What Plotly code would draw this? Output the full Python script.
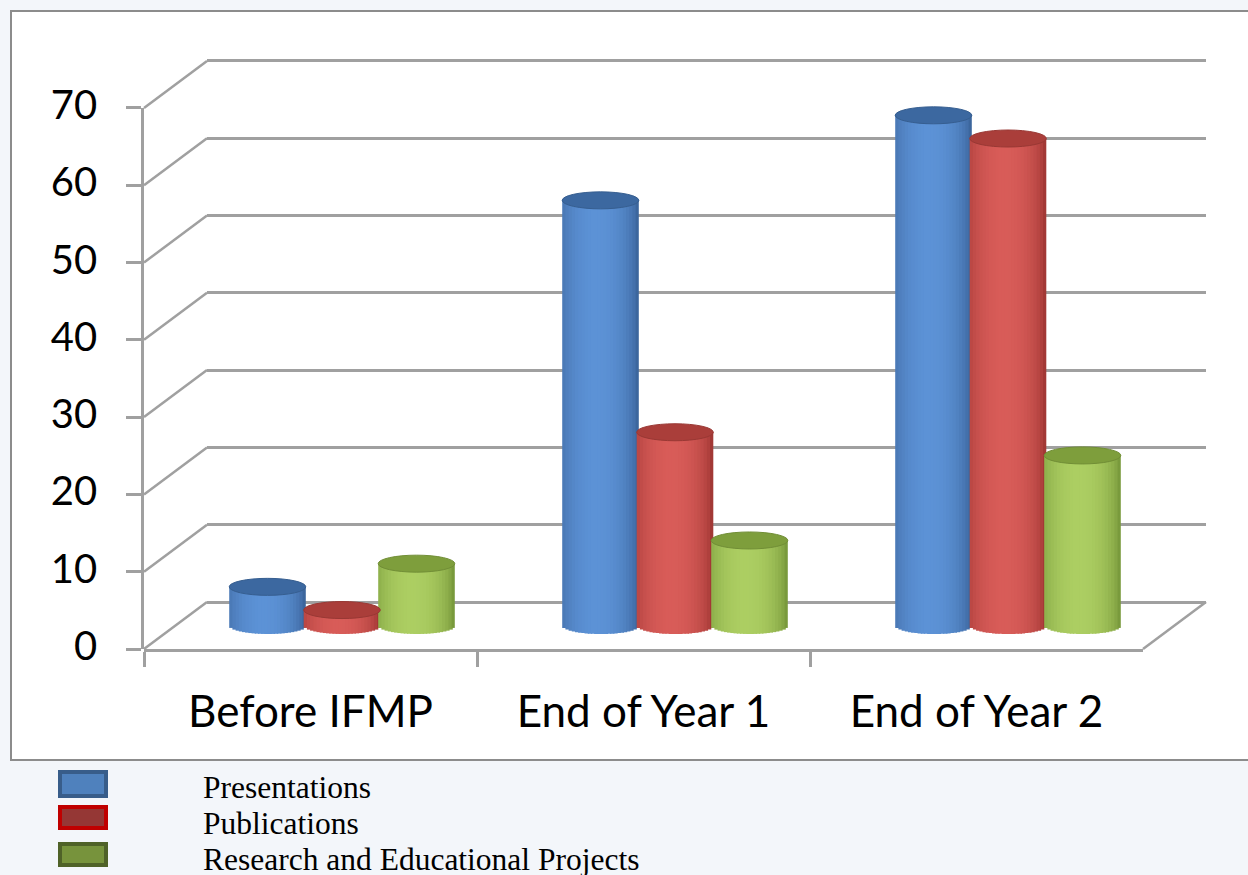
import numpy as np
import plotly.graph_objects as go

# ---------------- data ----------------
categories = ["Before IFMP", "End of Year 1", "End of Year 2"]
series_names = ["Presentations", "Publications", "Research and Educational Projects"]
presentations = [5, 55, 66]
publications = [2, 25, 63]
research = [8, 11, 22]
y_ticks = [0, 10, 20, 30, 40, 50, 60, 70]

series_values = [presentations, publications, research]

# ---------------- styles ----------------
EDGE = [(52, 90, 142), (148, 46, 44), (108, 140, 50)]
PEAK = [(92, 146, 214), (216, 92, 88), (172, 206, 98)]
TOP = [(60, 104, 160), (170, 62, 58), (126, 158, 60)]
LEG_FILL = ["#4f81bd", "#953735", "#77933c"]
LEG_LINE = ["#385d8a", "#c00000", "#4f6228"]
GRID = "#a0a0a0"
BG = "#f3f6fa"

W, H = 1248, 875
PX_UNIT = 7.73          # pixels per value unit
FRONT_ZERO = 649        # pixel row of value 0 on the front plane
HALF_DX, HALF_DY = 31.5, 23.5   # half depth offset
FRONT_LEFT = 144
GROUP_W = 333
MID_ZERO = FRONT_ZERO - HALF_DY
MID_LEFT = FRONT_LEFT + HALF_DX
BACK_ZERO = MID_ZERO - HALF_DY
YMAX = 70

BW = 0.23               # bar width (category units)
PITCH = 0.2237          # spacing between series
EH = 8.5 / PX_UNIT      # half height of top/bottom ellipse (value units)
NSTRIP = 24


def fx(px):
    return px / W


def fy(py):
    return 1 - py / H


def rgb(c):
    return "rgb(%d,%d,%d)" % tuple(int(round(v)) for v in c)


def strip_color(s, t):
    c, h = 0.45, 0.55
    w = max(0.0, 1 - ((t - c) / h) ** 2) ** 0.6
    e, p = EDGE[s], PEAK[s]
    return rgb([e[i] + (p[i] - e[i]) * w for i in range(3)])


fig = go.Figure()

# invisible anchor traces so that every subplot is drawn
fig.add_trace(go.Scatter(x=[0.5], y=[35], mode="markers", marker=dict(opacity=0),
                         xaxis="x", yaxis="y", showlegend=False, hoverinfo="skip"))

# bars as shaded strips (cylinders) on x2/y2 (mid plane)
xs = list(range(len(categories)))
for s, vals in enumerate(series_values):
    center = (s - 1) * PITCH
    left = center - BW / 2
    sw = BW / NSTRIP
    for k in range(NSTRIP):
        t = (k + 0.5) / NSTRIP
        b = -EH * np.sqrt(max(0.0, 1 - (2 * t - 1) ** 2))
        width = sw + (1.2 / GROUP_W if k < NSTRIP - 1 else 0)
        fig.add_trace(go.Bar(
            x=xs, y=[v - b for v in vals], base=[b] * len(vals),
            offset=left + k * sw, width=width,
            marker=dict(color=strip_color(s, t), line=dict(width=0)),
            xaxis="x2", yaxis="y2", showlegend=False, hoverinfo="skip",
        ))

fig.add_trace(go.Scatter(x=[0.5], y=[35], mode="markers", marker=dict(opacity=0),
                         xaxis="x3", yaxis="y3", showlegend=False, hoverinfo="skip"))
fig.add_trace(go.Scatter(x=categories, y=[0.5] * 3, mode="markers",
                         marker=dict(opacity=0), xaxis="x4", yaxis="y4",
                         showlegend=False, hoverinfo="skip"))

shapes = []
# white chart area
shapes.append(dict(type="rect", xref="paper", yref="paper",
                   x0=fx(11), x1=fx(1262), y0=fy(760), y1=fy(11),
                   fillcolor="white", line=dict(color="#8c8c8c", width=2),
                   layer="below"))
# side-wall diagonals
DXU = HALF_DX / GROUP_W
DYU = HALF_DY / PX_UNIT
for v in y_ticks:
    shapes.append(dict(type="line", xref="x2", yref="y2",
                       x0=-0.5 - DXU, y0=v - DYU, x1=-0.5 + DXU, y1=v + DYU,
                       line=dict(color=GRID, width=2.5), layer="above"))
shapes.append(dict(type="line", xref="x2", yref="y2",
                   x0=len(categories) - 0.5 - DXU, y0=-DYU,
                   x1=len(categories) - 0.5 + DXU, y1=DYU,
                   line=dict(color=GRID, width=2.5), layer="above"))
# cylinder tops
for s, vals in enumerate(series_values):
    center = (s - 1) * PITCH
    for i, v in enumerate(vals):
        shapes.append(dict(type="circle", xref="x2", yref="y2",
                           x0=i + center - BW / 2, x1=i + center + BW / 2,
                           y0=v - EH, y1=v + EH,
                           fillcolor=rgb(TOP[s]),
                           line=dict(color=rgb([c * 0.9 for c in TOP[s]]), width=1),
                           layer="above"))

# legend
annotations = []
leg_rows = [(770, 798), (805, 830), (842, 867)]
leg_text_y = [787, 823, 859]
for s in range(3):
    y0, y1 = leg_rows[s]
    shapes.append(dict(type="rect", xref="paper", yref="paper",
                       x0=fx(60), x1=fx(106), y0=fy(y1 - 2), y1=fy(y0 + 2),
                       fillcolor=LEG_FILL[s], line=dict(color=LEG_LINE[s], width=4)))
    annotations.append(dict(text=series_names[s], xref="paper", yref="paper",
                            x=fx(201), y=fy(leg_text_y[s]), xanchor="left", yanchor="middle",
                            showarrow=False,
                            font=dict(family="Liberation Serif", size=31.5, color="black")))

back_lo, back_hi = -1.5, YMAX + 1.5
fig.update_layout(
    width=W, height=H, margin=dict(l=0, r=0, t=0, b=0, pad=0, autoexpand=False),
    paper_bgcolor=BG, plot_bgcolor="rgba(0,0,0,0)",
    barmode="overlay", showlegend=False,
    shapes=shapes, annotations=annotations,
    # back wall grid
    xaxis=dict(domain=[fx(MID_LEFT + HALF_DX), fx(MID_LEFT + 3 * GROUP_W + HALF_DX)],
               range=[0, 1], visible=False, anchor="y", automargin=False),
    yaxis=dict(domain=[fy(BACK_ZERO - back_lo * PX_UNIT), fy(BACK_ZERO - back_hi * PX_UNIT)],
               range=[back_lo, back_hi], tickvals=y_ticks, showgrid=True,
               gridcolor=GRID, gridwidth=2.5, zeroline=False, showticklabels=False,
               ticks="", showline=False, anchor="x", automargin=False),
    # bars (mid plane)
    xaxis2=dict(domain=[0, 1], range=[-0.5 - MID_LEFT / GROUP_W, -0.5 + (W - MID_LEFT) / GROUP_W],
                visible=False, anchor="y2", automargin=False),
    yaxis2=dict(domain=[0, 1], range=[(MID_ZERO - H) / PX_UNIT, MID_ZERO / PX_UNIT],
                visible=False, anchor="x2", automargin=False),
    # value axis (front plane)
    xaxis3=dict(domain=[fx(FRONT_LEFT), fx(FRONT_LEFT) + 0.01], range=[0, 1],
                visible=False, anchor="y3", automargin=False),
    yaxis3=dict(domain=[fy(FRONT_ZERO), fy(FRONT_ZERO - YMAX * PX_UNIT)], range=[0, YMAX],
                tickvals=y_ticks, anchor="x3", side="left", showline=True,
                linecolor=GRID, linewidth=2.5, ticks="outside", ticklen=15,
                tickwidth=2.5, tickcolor=GRID, showgrid=False, zeroline=False,
                tickfont=dict(family="Lato", size=40, color="black"),
                ticklabelstandoff=21, ticklabelshift=-3, automargin=False),
    # category axis (front plane)
    xaxis4=dict(domain=[fx(FRONT_LEFT), fx(FRONT_LEFT + 3 * GROUP_W)], type="category",
                categoryorder="array", categoryarray=categories, range=[-0.5, 2.5],
                anchor="y4", showline=True, linecolor=GRID, linewidth=2.5,
                ticks="outside", tickson="boundaries", ticklen=15, tickwidth=2.5,
                tickcolor=GRID, showgrid=False, zeroline=False,
                tickfont=dict(family="Lato", size=44, color="black"),
                ticklabelstandoff=22, automargin=False),
    yaxis4=dict(domain=[fy(FRONT_ZERO), fy(FRONT_ZERO) + 0.01], range=[0, 1],
                visible=False, anchor="x4", automargin=False),
)

fig.write_html("out.html")
